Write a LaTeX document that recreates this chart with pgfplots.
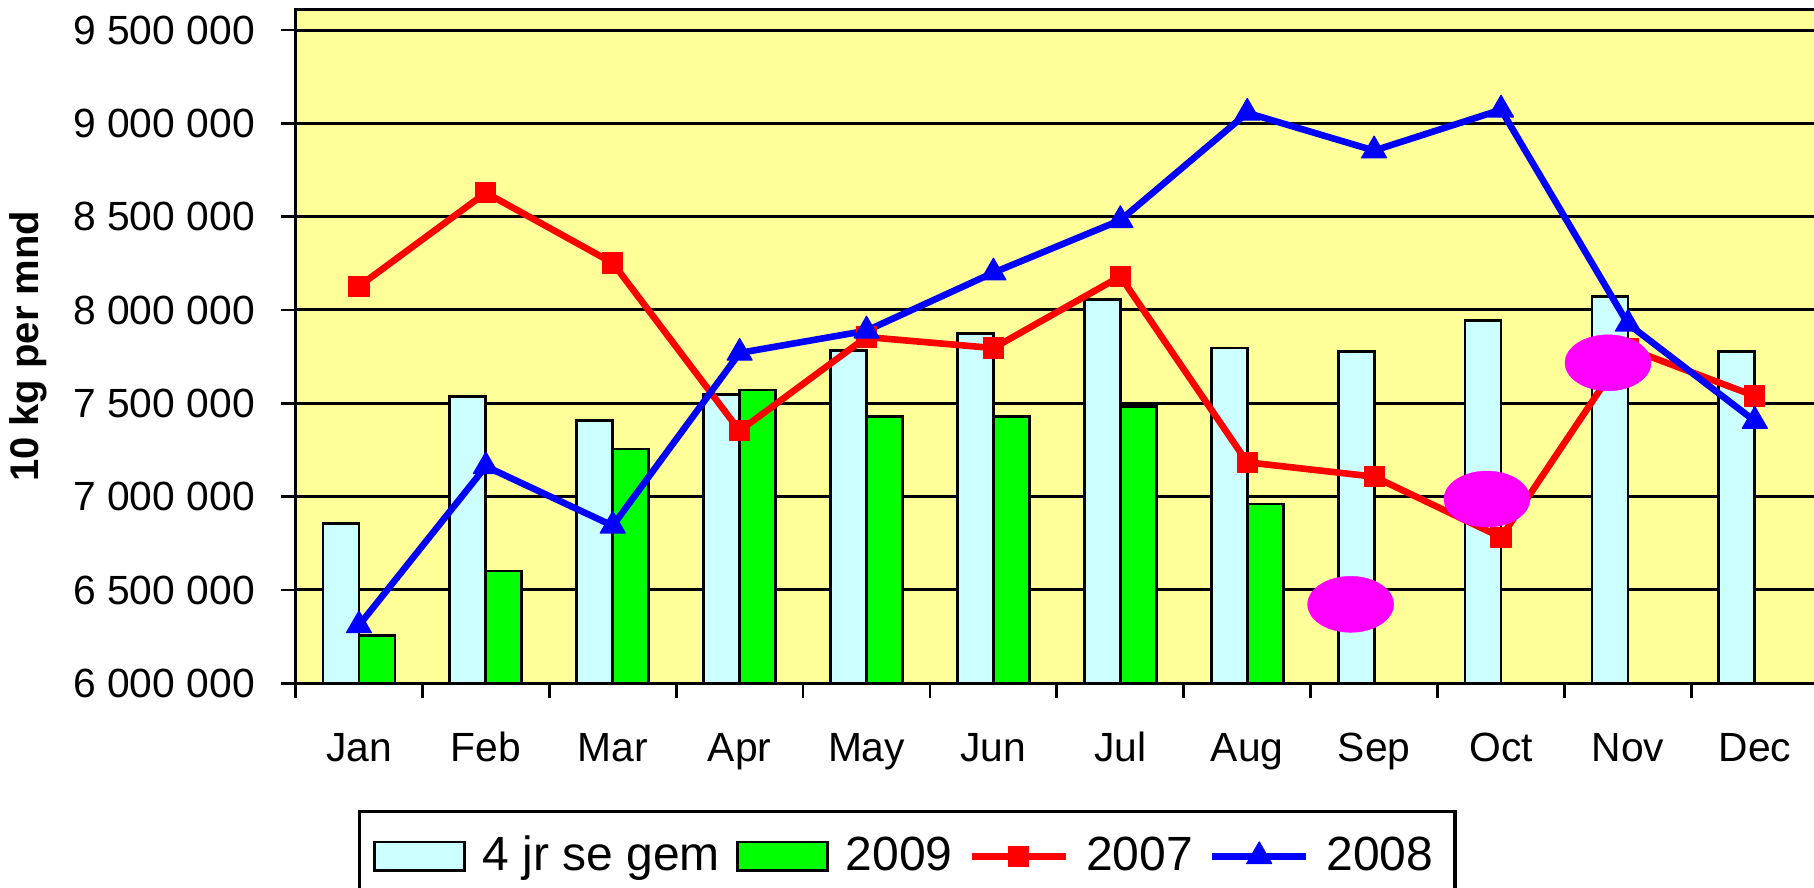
\documentclass[border=0pt]{standalone}
\usepackage{pgfplots}
\pgfplotsset{compat=1.18}
\usepackage{fontspec}
\setmainfont{Liberation Sans}
\definecolor{bgyellow}{HTML}{FFFF99}
\definecolor{barcyan}{HTML}{CCFFFF}
\definecolor{bargreen}{HTML}{00FF00}
\definecolor{lred}{HTML}{FF0000}
\definecolor{lblue}{HTML}{0000FF}
\definecolor{ellmag}{HTML}{FF00FF}
\pgfplotsset{
  mybarlegend/.style={legend image code/.code={\draw[##1] (0pt,-3.6pt) rectangle (22.5pt,3.6pt);}},
  mylinelegend/.style={legend image code/.code={\draw[##1, mark repeat=2, mark phase=2] plot coordinates {(0pt,0pt) (11.75pt,0pt) (23.5pt,0pt)};}},
}
\begin{document}
\begin{tikzpicture}
\begin{axis}[
  name=ax,
  scale only axis, width=380.7pt, height=168.5pt,
  xmin=0, xmax=12, ymin=6000000, ymax=9611000,
  axis background/.style={fill=bgyellow},
  axis line style={line width=0.85pt, black},
  xtick={0.5,1.5,2.5,3.5,4.5,5.5,6.5,7.5,8.5,9.5,10.5,11.5},
  xticklabels={Jan,Feb,Mar,Apr,May,Jun,Jul,Aug,Sep,Oct,Nov,Dec},
  minor xtick={0,1,2,3,4,5,6,7,8,9,10,11,12},
  tick align=outside, tick pos=left,
  major tick length=3.6pt, minor tick length=3.75pt,
  tick style={black, line width=0.7pt},
  major x tick style={draw=none},
  ytick={6000000,6500000,7000000,7500000,8000000,8500000,9000000,9500000},
  ymajorgrids, grid style={black, line width=0.75pt},
  scaled y ticks=false,
  /pgf/number format/fixed,
  /pgf/number format/1000 sep={\ },
  /pgf/number format/assume math mode=true,
  ticklabel style={font=\fontsize{10.2}{12}\selectfont},
  xticklabel style={text height=0.75em, text depth=0.2em, yshift=-5pt},
  yticklabel style={xshift=-3.05pt},
  ylabel={\textbf{10 kg per mnd}},
  ylabel style={at={(axis description cs:-0.1755,0.5)}, anchor=center, font=\fontsize{10}{12}\selectfont},
  legend columns=4,
  legend style={at={(axis description cs:0.04075,-0.188)}, anchor=north west,
    draw=black, line width=0.8pt, fill=white,
    font=\fontsize{12}{14}\selectfont,
    inner xsep=3.4pt, inner ysep=4.1pt,
    /tikz/every odd column/.append style={column sep=2.25pt},
    /tikz/every even column/.append style={column sep=2pt}},
]
\addplot[ybar, bar width=9pt, bar shift=-4.5pt, fill=barcyan, draw=black, line width=0.7pt, mybarlegend]
  coordinates {(0.5,6855000) (1.5,7536000) (2.5,7410000) (3.5,7546000) (4.5,7784000) (5.5,7874000)
               (6.5,8056000) (7.5,7796000) (8.5,7778000) (9.5,7945000) (10.5,8073000) (11.5,7778000)};
\addlegendentry{4 jr se gem}
\addplot[ybar, bar width=9pt, bar shift=4.5pt, fill=bargreen, draw=black, line width=0.7pt, mybarlegend]
  coordinates {(0.5,6255000) (1.5,6602000) (2.5,7255000) (3.5,7571000) (4.5,7428000) (5.5,7428000)
               (6.5,7482000) (7.5,6961000)};
\addlegendentry{2009}
\addplot[lred, line width=1.65pt, line join=round, mark=square*, mark size=2.5pt,
  mark options={solid, fill=lred, draw=lred, line width=0.3pt}, mylinelegend]
  coordinates {(0.5,8127000) (1.5,8628000) (2.5,8252000) (3.5,7353000) (4.5,7855000) (5.5,7796000)
               (6.5,8180000) (7.5,7184000) (8.5,7107000) (9.5,6782000) (10.5,7795000) (11.5,7539000)};
\addlegendentry{2007}
\addplot[lblue, line width=1.65pt, line join=round, mark=triangle*, mark size=3.6pt,
  mark options={solid, fill=lblue, draw=lblue, line width=0.3pt}, mylinelegend]
  coordinates {(0.5,6310000) (1.5,7162000) (2.5,6844000) (3.5,7770000) (4.5,7889000) (5.5,8200000)
               (6.5,8481000) (7.5,9056000) (8.5,8854000) (9.5,9073000) (10.5,7926000) (11.5,7405000)};
\addlegendentry{2008}
\addplot[ellmag, only marks, mark=*, mark size=7pt, mark options={fill=ellmag, draw=ellmag, line width=0.1pt, xscale=1.536}, forget plot]
  coordinates {(8.315,6423000) (9.389,6987000) (10.343,7717000)};
\end{axis}
\pgfresetboundingbox
\path[use as bounding box] ([shift={(-73.875pt,-51.175pt)}]ax.south west) rectangle ([shift={(379.625pt,170.825pt)}]ax.south west);
\end{tikzpicture}
\end{document}
